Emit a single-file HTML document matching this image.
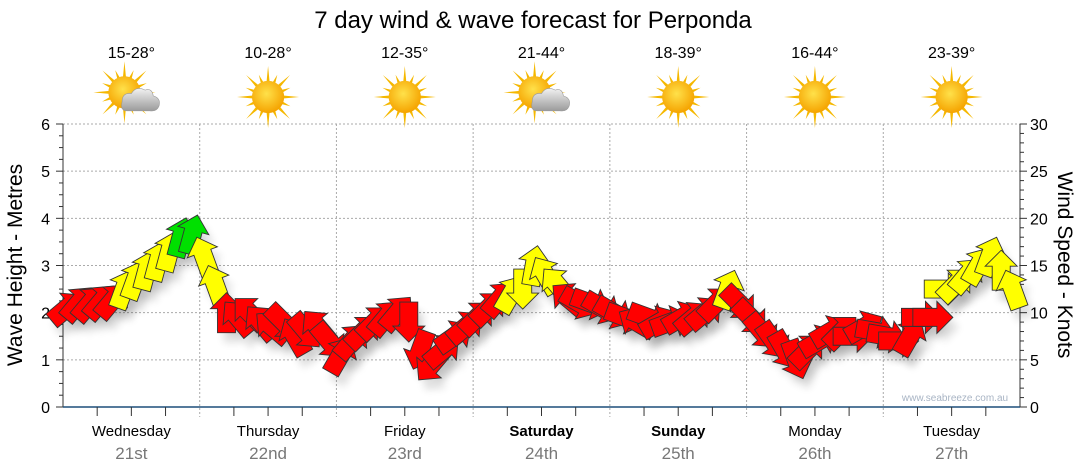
<!DOCTYPE html>
<html><head><meta charset="utf-8"><style>
body{margin:0;background:#fff;}
svg{display:block;font-family:"Liberation Sans",sans-serif;}
</style></head><body>
<svg id="chart" width="1080" height="475" viewBox="0 0 1080 475">
<defs>
<filter id="sh" x="-50%" y="-50%" width="200%" height="200%"><feGaussianBlur stdDeviation="4"/></filter>
<radialGradient id="sun" cx="45%" cy="40%" r="60%"><stop offset="0" stop-color="#ffe14a"/><stop offset="1" stop-color="#f5a300"/></radialGradient>
<linearGradient id="cloud" x1="0" y1="0" x2="0" y2="1"><stop offset="0" stop-color="#f2f2f2"/><stop offset="1" stop-color="#9a9a9a"/></linearGradient>
</defs>
<text x="533" y="28" font-size="24" text-anchor="middle" fill="#000">7 day wind &amp; wave forecast for Perponda</text>
<g id="grid"></g>
<g id="axes"></g>
<g id="shadows"></g>
<g id="arrows"></g>
<g id="topg"></g>
<text x="955" y="401" font-size="10" fill="#a8b4c4" text-anchor="middle">www.seabreeze.com.au</text>
<text transform="translate(22,265) rotate(-90)" font-size="21" text-anchor="middle">Wave Height - Metres</text>
<text transform="translate(1058,265) rotate(90)" font-size="21" text-anchor="middle">Wind Speed - Knots</text>
</svg>
<script>
const days=["Wednesday","Thursday","Friday","Saturday","Sunday","Monday","Tuesday"];
const dates=["21st","22nd","23rd","24th","25th","26th","27th"];
const boldDays=[false,false,false,true,true,false,false];
const temps=["15-28°","10-28°","12-35°","21-44°","18-39°","16-44°","23-39°"];
const cloudy=[true,false,false,true,false,false,false];
const waveTicks=[0,1,2,3,4,5,6];
const windTicks=[0,5,10,15,20,25,30];
const windSpeed=[10.5,11,11,11.2,11.3,12.5,13.5,14.5,15.5,16.5,18,18.3,
16,13,10,9.5,10,9,8.5,9,7.5,8,8.5,7,
5.5,7,8,9,9.5,10,9,6,4.5,6,7.5,8.5,
9.5,10.5,11.5,12,12.5,15,14,13,11.5,11,11,10.5,
10,9.5,9,9.5,9,9,9.5,9.5,10,11,12.5,11,
9.5,8,7,6,5,6,7,8,8,7.5,8.5,8,
7.5,7,7.5,9.5,9.5,12.5,13,14,15,16,14.5,12.5];
const windDir=[50,40,40,40,40,20,20,15,15,15,15,15,
-20,-20,0,-40,-45,-40,-50,135,-30,140,-40,140,
30,40,45,45,40,40,180,200,220,50,55,50,
45,45,40,30,180,10,-30,-40,-50,120,110,120,
120,110,-60,110,60,70,60,50,50,45,20,135,
135,140,145,150,160,45,60,60,45,90,60,100,
100,90,30,90,90,90,45,40,30,20,0,-20];

const NS="http://www.w3.org/2000/svg";
const X0=63,X1=1020,Y0=407,Y1=124;
const dayW=(X1-X0)/7;
const xT=i=>X0+i*dayW/12+4;
const yW=m=>Y0-(m/6)*(Y0-Y1);
const yK=k=>Y0-(k/30)*(Y0-Y1);
function mk(tag,attrs,parent){const e=document.createElementNS(NS,tag);for(const k in attrs)e.setAttribute(k,attrs[k]);parent.appendChild(e);return e;}
const gridG=document.getElementById('grid'),axesG=document.getElementById('axes'),topG=document.getElementById('topg');
waveTicks.forEach(m=>{
  if(m>0){const l=mk('line',{x1:X0,x2:X1,y1:yW(m),y2:yW(m),stroke:'#aaa','stroke-dasharray':'2,2'},gridG);
  
  }
  const t=mk('text',{x:50,y:yW(m)+6,'font-size':16,'text-anchor':'end',fill:'#000'},axesG);t.textContent=m;
  
  
});
for(let v=0;v<=6.001;v+=0.25){const y=yW(v);mk('line',{x1:X0-(v%1===0?7:4),x2:X0,y1:y,y2:y,stroke:'#333'},axesG);}
windTicks.forEach(k=>{
  const t=mk('text',{x:1030,y:yK(k)+6,'font-size':16,fill:'#000'},axesG);t.textContent=k;
  
  
});
for(let k=0;k<=30;k++){const y=yK(k);mk('line',{x1:X1,x2:X1+(k%5===0?7:4),y1:y,y2:y,stroke:'#333'},axesG);}
mk('line',{x1:X0,x2:X0,y1:Y1,y2:Y0,stroke:'#333'},axesG);
mk('line',{x1:X1,x2:X1,y1:Y1,y2:Y0,stroke:'#333'},axesG);
mk('line',{x1:X0,x2:X1,y1:Y0,y2:Y0,stroke:'#1d4f7a','stroke-width':1.5},axesG);
for(let q=1;q<28;q++){const x=X0+q*dayW/4;mk('line',{x1:x,x2:x,y1:Y0,y2:Y0+(q%4===0?0:9),stroke:'#333'},axesG);}
days.forEach((d,i)=>{
  const cx=X0+(i+0.5)*dayW;
  if(i>0){const gl=mk('line',{x1:X0+i*dayW,x2:X0+i*dayW,y1:Y1,y2:Y0+10,stroke:'#aaa','stroke-dasharray':'2,2'},gridG);
  
  }
  const t=mk('text',{x:cx,y:436,'font-size':15,'text-anchor':'middle','font-weight':boldDays[i]?'bold':'normal'},axesG);t.textContent=d;
  
  
  const t2=mk('text',{x:cx,y:459,'font-size':17,'text-anchor':'middle',fill:'#777'},axesG);t2.textContent=dates[i];
  
  
  const t3=mk('text',{x:cx,y:58,'font-size':16,'text-anchor':'middle'},topG);t3.textContent=temps[i];
  
  
  const g=mk('g',{transform:`translate(${cx},97) scale(1.15)`},topG);
  
  
  const sx=cloudy[i]?-6:0,sy=cloudy[i]?-4:0;
  for(let r=0;r<16;r++){const a=r*Math.PI/8,L=r%2?21:27;mk('polygon',{points:`${sx+Math.cos(a-0.12)*12},${sy+Math.sin(a-0.12)*12} ${sx+Math.cos(a)*L},${sy+Math.sin(a)*L} ${sx+Math.cos(a+0.12)*12},${sy+Math.sin(a+0.12)*12}`,fill:'#f5b800'},g);}
  mk('circle',{cx:sx,cy:sy,r:14,fill:'url(#sun)'},g);
  if(cloudy[i]){mk('path',{d:'M-4,12 Q-10,12 -8,4 Q-8,-4 0,-3 Q4,-10 12,-6 Q18,-8 19,-1 Q26,1 24,8 Q22,13 16,12 Z',fill:'url(#cloud)',stroke:'#999','stroke-width':0.5},g);}
});
const arrowsG=document.getElementById('arrows'),shG=document.getElementById('shadows');
const P="0,-20 16,-4 9,-4 9,20 -9,20 -9,-4 -16,-4";
windSpeed.forEach((k,i)=>{
  const x=xT(i),y=yK(k),d=windDir[i];
  const col=k>=18?'#00e000':(k>=12?'#ffff00':'#ff0000');
  mk('polygon',{points:P,transform:`translate(${x+6},${y+10}) rotate(${d})`,fill:'#000',opacity:0.12,filter:'url(#sh)'},shG);
  const a=mk('polygon',{points:P,transform:`translate(${x},${y}) rotate(${d})`,fill:col,stroke:'#333','stroke-width':0.9},arrowsG);
  
  
});
</script>
</body></html>
